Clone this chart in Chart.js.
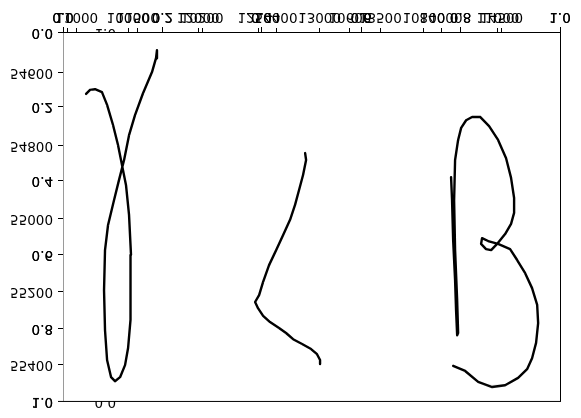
<!DOCTYPE html>
<html><head><meta charset="utf-8">
<script src="https://cdn.jsdelivr.net/npm/chart.js@4"></script>
<style>
html,body{margin:0;padding:0;background:#fff;}
#wrap{width:581px;height:418px;transform:scaleY(-1);}
canvas{display:block;}
</style>
</head><body>
<div id="wrap"><canvas id="c" width="581" height="418"></canvas></div>
<script>
// ---- data (pen-trace coordinates) ----
const leftX = [11077,11110,11151,11208,11250,11299,11340,11373,11406,11431,11447,11447,11439,11423,11398,11357,11315,11283,11250,11233,11225,11233,11258,11307,11348,11390,11431,11480,11546,11620,11653,11661];
const leftY = [54660,54649,54647,54655,54690,54745,54800,54855,54910,54992,55101,55197,55279,55356,55403,55436,55447,55436,55389,55307,55197,55088,55019,54951,54896,54841,54773,54718,54658,54600,54562,54540];
const midX = [12881,12889,12864,12831,12798,12757,12699,12642,12584,12535,12502,12469,12493,12535,12592,12666,12724,12782,12856,12930,12979,13004,13004];
const midY = [54822,54841,54882,54923,54964,55005,55047,55088,55129,55175,55211,55230,55247,55268,55285,55301,55315,55332,55345,55359,55373,55389,55400];
const rightX = [14083,14091,14100,14116,14124,14133,14141,14133,14116,14108,14116,14141,14166,14207,14256,14322,14396,14470,14536,14577,14602,14602,14577,14528,14470,14413,14371,14330,14338,14388,14470,14569,14627,14693,14750,14792,14800,14783,14750,14709,14635,14528,14421,14306,14199,14100];
const rightY = [54888,54951,55060,55170,55252,55321,55315,55225,55088,54951,54841,54786,54753,54732,54723,54723,54748,54786,54836,54890,54945,54986,55016,55044,55068,55088,55085,55071,55055,55063,55071,55085,55115,55151,55192,55238,55288,55342,55384,55414,55438,55458,55463,55449,55419,55405];

// ---- ticks / axis limits ----
const unitTicks = [0, 0.2, 0.4, 0.6, 0.8, 1.0];
const ghostTicks = [0, 1];
const xTicksA = [11000, 11500, 12000, 12500, 13000, 13500, 14000, 14500];
const xTicksB = [10000, 10200, 10400, 10600, 10800, 11000];
const xTicksC = [0.01];
const yTicksD = [54600, 54800, 55000, 55200, 55400];
const xLimA = [10887, 14980];
const xLimB = [9824, 11168];
const yLimD = [54493, 55504];

const font = {family: 'DejaVu Sans', size: 13.5};
const pts = (xs, ys) => xs.map((x, i) => ({x: x, y: ys[i]}));
const fixed = vals => (s => { s.ticks = vals.map(v => ({value: v})); });
const f1 = v => Number(v).toFixed(1);
const f0 = v => String(v);

// o: {labels, marks, border, reverse, z}
function scale(axis, pos, lim, vals, fmt, o) {
  const z = o.z === undefined ? 1 : o.z;
  return {
    type: 'linear', axis: axis, position: pos, min: lim[0], max: lim[1],
    reverse: !!o.reverse,
    afterBuildTicks: vals ? fixed(vals) : undefined,
    ticks: {display: !!o.labels, font: font, color: '#000', autoSkip: false, maxRotation: 0, minRotation: 0,
            padding: 3, callback: fmt, z: z},
    grid: {display: !!o.marks, drawOnChartArea: false, drawTicks: true, tickLength: 5, color: '#000', tickWidth: 1, z: z},
    border: {display: !!o.border, color: o.border || '#000', width: 1, z: 1}
  };
}

const patch = {
  id: 'patch',
  beforeDatasetsDraw(chart) {
    const a = chart.chartArea, ctx = chart.ctx;
    ctx.save(); ctx.fillStyle = '#ffffff';
    ctx.fillRect(a.left, a.top, a.right - a.left, a.bottom - a.top);
    ctx.restore();
  }
};

const ds = (xs, ys) => ({data: pts(xs, ys), showLine: true, borderColor: '#000', borderWidth: 2.4,
  pointRadius: 0, fill: false, tension: 0, xAxisID: 'xA', yAxisID: 'yD', borderJoinStyle: 'round', borderCapStyle: 'round'});

const LBL = -0.0201;   // y-label anchor (in unit-axis coordinates)
new Chart(document.getElementById('c'), {
  type: 'scatter',
  data: {datasets: [ds(leftX, leftY), ds(midX, midY), ds(rightX, rightY)]},
  options: {
    responsive: false, animation: false, devicePixelRatio: 1,
    layout: {padding: {left: 63, right: 21, top: 16, bottom: 33}},
    plugins: {legend: {display: false}, tooltip: {enabled: false}},
    scales: {
      y01: scale('y', {x01a: 0}, [0, 1], unitTicks, f1, {marks: true, border: '#9a9a9a'}),
      y01L: scale('y', {x01a: LBL}, [0, 1], unitTicks, f1, {labels: true}),
      y01L2: scale('y', {x01a: LBL}, [0, 1], unitTicks, f1, {labels: true}),
      yD: scale('y', {x01a: 0}, yLimD, yTicksD, f0, {marks: true}),
      yDL: scale('y', {x01a: LBL}, yLimD, yTicksD, f0, {labels: true}),
      yG: scale('y', {x01a: 0.1066}, [0, 1], ghostTicks, f1, {labels: true, reverse: true, z: 0}),
      yR: scale('y', {x01a: 1}, [0, 1], null, f1, {border: '#000'}),
      x01a: scale('x', {y01: 0}, [0, 1], unitTicks, f1, {labels: true, marks: true, border: '#000'}),
      x01b: scale('x', {y01: 0}, [0, 1], unitTicks, f1, {labels: true}),
      xA: scale('x', {y01: 0}, xLimA, xTicksA, f0, {labels: true, marks: true}),
      xB: scale('x', {y01: 0}, xLimB, xTicksB, f0, {labels: true, marks: true}),
      xC: scale('x', {y01: 0}, [0, 1], xTicksC, f1, {marks: true}),
      xT: scale('x', {y01: 1}, [0, 1], null, f1, {border: '#000'})
    }
  },
  plugins: [patch]
});
</script>
</body></html>
